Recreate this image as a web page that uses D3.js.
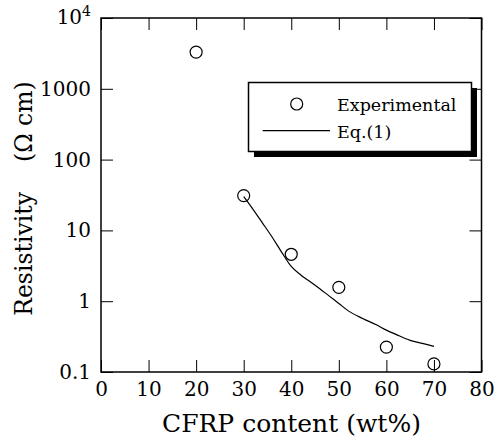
<!DOCTYPE html>
<html>
<head>
<meta charset="utf-8">
<script src="https://cdn.jsdelivr.net/npm/d3@7"></script>
<style>
  body { margin: 0; background: #fff; }
</style>
</head>
<body>
<script>
//Width and height
var w = 495;
var h = 441;

//Plot box (edges in pixels)
var padLeft = 101, padRight = 481.5, padTop = 18, padBottom = 372;

//Experimental points
var expContent = [20, 30, 40, 50, 60, 70];
var expResist = [3300, 31, 4.6, 1.57, 0.225, 0.13];

//Eq.(1) curve
var eqContent = [30, 32, 34, 36, 38, 40, 42, 44, 46, 48, 50, 52, 55, 58, 60, 62, 65, 68, 70];
var eqResist = [30, 19.7, 12.6, 8.0, 4.9, 3.1, 2.35, 1.88, 1.5, 1.18, 0.93, 0.73, 0.57, 0.46, 0.39, 0.34, 0.28, 0.25, 0.23];

//Ticks
var xTicks = [0, 10, 20, 30, 40, 50, 60, 70, 80];
var yTicks = [0.1, 1, 10, 100, 1000, 10000];

var legendLabels = ["Experimental", "Eq.(1)"];

var fontFam = "'DejaVu Serif', 'DejaVu Sans', sans-serif";

var xScale = d3.scaleLinear().domain([0, 80]).range([padLeft, padRight]);
var yScale = d3.scaleLog().domain([0.1, 10000]).range([padBottom, padTop]);

var svg = d3.select("body")
    .append("svg")
    .attr("width", w)
    .attr("height", h)
    .style("font-family", fontFam);

//Axes with inward ticks
var xAxis = d3.axisBottom(xScale).tickValues(xTicks)
    .tickSizeInner(-12).tickSizeOuter(0).tickPadding(10)
    .tickFormat(d3.format("d"));
var yAxis = d3.axisLeft(yScale).tickValues(yTicks)
    .tickSizeInner(-12).tickSizeOuter(0).tickPadding(10)
    .tickFormat(function(d) { return d === 10000 ? "" : (d < 1 ? "0.1" : d3.format("d")(d)); });

var gx = svg.append("g")
    .attr("transform", "translate(0," + padBottom + ")")
    .call(xAxis);
var gy = svg.append("g")
    .attr("transform", "translate(" + padLeft + ",0)")
    .call(yAxis);
svg.append("g")
    .attr("transform", "translate(0," + padTop + ")")
    .call(d3.axisTop(xScale).tickValues(xTicks).tickSizeInner(-12).tickSizeOuter(0).tickFormat(""));
svg.append("g")
    .attr("transform", "translate(" + padRight + ",0)")
    .call(d3.axisRight(yScale).tickValues(yTicks).tickSizeInner(-12).tickSizeOuter(0).tickFormat(""));

svg.selectAll(".domain").remove();
svg.selectAll("g").attr("font-family", null);
svg.selectAll(".tick line").attr("stroke", "#000").attr("stroke-width", 1);
svg.selectAll(".tick text").attr("font-size", 20).attr("fill", "#000");

//10^4 label
var sup = gy.selectAll(".tick").filter(function(d) { return d === 10000; }).select("text");
sup.append("tspan").text("10");
sup.append("tspan").text("4").attr("font-size", 14).attr("dy", "-0.55em");
sup.attr("dy", "0.25em");

//Frame
svg.append("rect")
    .attr("x", padLeft).attr("y", padTop)
    .attr("width", padRight - padLeft).attr("height", padBottom - padTop)
    .attr("fill", "none").attr("stroke", "#000").attr("stroke-width", 1.5);

//Curve
var line = d3.line()
    .x(function(d, i) { return xScale(eqContent[i]); })
    .y(function(d, i) { return yScale(eqResist[i]); })
    .curve(d3.curveMonotoneX);
svg.append("path")
    .datum(eqContent)
    .attr("d", line)
    .attr("fill", "none")
    .attr("stroke", "#000")
    .attr("stroke-width", 1.2);

//Points
svg.selectAll("circle.exp")
    .data(expContent)
    .enter()
    .append("circle")
    .attr("class", "exp")
    .attr("cx", function(d) { return xScale(d); })
    .attr("cy", function(d, i) { return yScale(expResist[i]); })
    .attr("r", 6)
    .attr("fill", "none")
    .attr("stroke", "#000")
    .attr("stroke-width", 1.2);

//Legend with shadow
var lx = 248.5, ly = 82.5, lw = 223, lh = 69;
svg.append("rect")
    .attr("x", lx + 5.5).attr("y", ly + 5.5)
    .attr("width", lw).attr("height", lh)
    .attr("fill", "#000");
svg.append("rect")
    .attr("x", lx).attr("y", ly)
    .attr("width", lw).attr("height", lh)
    .attr("fill", "#fff").attr("stroke", "#000").attr("stroke-width", 1.5);
svg.append("circle")
    .attr("cx", 296.7).attr("cy", 104).attr("r", 6)
    .attr("fill", "none").attr("stroke", "#000").attr("stroke-width", 1.2);
svg.append("line")
    .attr("x1", 262.7).attr("x2", 330).attr("y1", 130.7).attr("y2", 130.7)
    .attr("stroke", "#000").attr("stroke-width", 1.2);
svg.selectAll("text.leg")
    .data(legendLabels)
    .enter()
    .append("text")
    .attr("class", "leg")
    .attr("x", 337)
    .attr("y", function(d, i) { return i === 0 ? 111 : 137.7; })
    .attr("font-size", 17.5)
    .text(function(d) { return d; });

//Axis titles
svg.append("text")
    .attr("x", 291.5)
    .attr("y", 431.7)
    .attr("text-anchor", "middle")
    .attr("font-size", 25)
    .text("CFRP content (wt%)");

var yt = svg.append("text")
    .attr("transform", "translate(32,198.5) rotate(-90)")
    .attr("text-anchor", "middle")
    .attr("font-size", 23.5);
yt.append("tspan").text("Resistivity");
yt.append("tspan").attr("dx", 30).text("(Ω cm)");
</script>
</body>
</html>
